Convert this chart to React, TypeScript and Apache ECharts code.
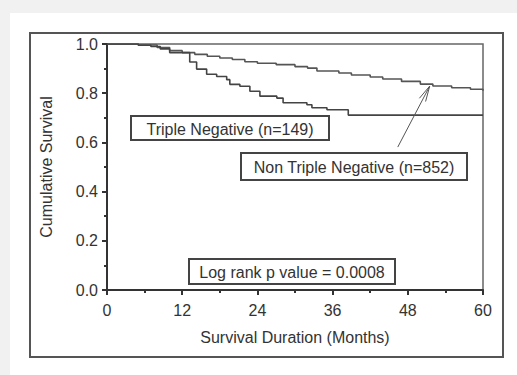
import React, { useEffect, useRef } from "react";
import * as echarts from "echarts";

const tnMonths = [0, 5, 7, 8.5, 10, 13.2, 14.3, 15.9, 17.5, 19.1, 19.6, 21.2, 22.8, 24.4, 27.1, 28.1, 31.9, 32.7, 35.1, 38.5, 60];
const tnSurvival = [1.0, 0.995, 0.99, 0.98, 0.965, 0.927, 0.898, 0.877, 0.868, 0.855, 0.836, 0.828, 0.808, 0.788, 0.78, 0.761, 0.753, 0.741, 0.733, 0.711, 0.711];

const ntnMonths = [0, 5, 8, 10, 12, 14, 16, 18, 20, 22, 24, 27, 30, 32, 33.5, 37, 39, 42, 44, 47, 50, 52, 55, 58, 60];
const ntnSurvival = [1.0, 0.996, 0.986, 0.973, 0.965, 0.958, 0.95, 0.943, 0.937, 0.928, 0.922, 0.916, 0.908, 0.902, 0.89, 0.882, 0.874, 0.866, 0.858, 0.848, 0.837, 0.829, 0.822, 0.816, 0.81];

const xTicks = [0, 12, 24, 36, 48, 60];
const yTicks = [0.0, 0.2, 0.4, 0.6, 0.8, 1.0];

const tnLabel = "Triple Negative (n=149)";
const ntnLabel = "Non Triple Negative (n=852)";
const pLabel = "Log rank p value = 0.0008";
const xTitle = "Survival Duration (Months)";
const yTitle = "Cumulative Survival";

// arrow from label to the non-TN curve (data coordinates)
const arrowTail = [46.4, 0.581];
const arrowTip = [51.5, 0.829];

const FONT = "'Liberation Sans', Arial, sans-serif";
const INK = "#333";

export default function App() {
  const ref = useRef<HTMLDivElement>(null);
  useEffect(() => {
    if (!ref.current) return;
    const chart = echarts.init(ref.current, null, { renderer: "svg" });
    const axisCommon = {
      axisLine: { show: true, lineStyle: { color: INK, width: 2 } },
      axisTick: { show: true, length: 5, lineStyle: { color: INK, width: 2 } },
      minorTick: { show: true, splitNumber: 2, length: 3, lineStyle: { color: INK, width: 2 } },
      splitLine: { show: false },
      axisLabel: { color: INK, fontSize: 16, fontFamily: FONT },
      nameTextStyle: { color: INK, fontSize: 16, fontFamily: FONT },
    };
    const option: any = {
      animation: false,
      grid: {
        left: 107,
        right: 34,
        top: 44,
        bottom: 85,
        show: true,
        borderColor: "#666",
        borderWidth: 1.5,
        backgroundColor: "transparent",
      },
      xAxis: {
        ...axisCommon,
        type: "value",
        min: xTicks[0],
        max: xTicks[xTicks.length - 1],
        interval: 12,
        axisLabel: { ...axisCommon.axisLabel, margin: 12 },
        name: xTitle,
        nameLocation: "middle",
        nameGap: 39,
      },
      yAxis: {
        ...axisCommon,
        type: "value",
        min: yTicks[0],
        max: yTicks[yTicks.length - 1],
        interval: 0.2,
        axisLabel: { ...axisCommon.axisLabel, margin: 9, formatter: (v: number) => v.toFixed(1) },
        name: yTitle,
        nameLocation: "middle",
        nameGap: 53,
      },
      series: [
        {
          type: "line",
          step: "end",
          showSymbol: false,
          data: ntnMonths.map((m, i) => [m, ntnSurvival[i]]),
          lineStyle: { color: "#555", width: 1.6 },
        },
        {
          type: "line",
          step: "end",
          showSymbol: false,
          data: tnMonths.map((m, i) => [m, tnSurvival[i]]),
          lineStyle: { color: "#444", width: 1.6 },
        },
      ],
    };
    chart.setOption(option);

    const tail = chart.convertToPixel({ gridIndex: 0 }, arrowTail) as number[];
    const tip = chart.convertToPixel({ gridIndex: 0 }, arrowTip) as number[];
    const ang = Math.atan2(tip[1] - tail[1], tip[0] - tail[0]);
    const headLen = 16;
    const spread = 0.22;
    const h1 = [tip[0] - headLen * Math.cos(ang - spread), tip[1] - headLen * Math.sin(ang - spread)];
    const h2 = [tip[0] - headLen * Math.cos(ang + spread), tip[1] - headLen * Math.sin(ang + spread)];

    const box = (x: number, y: number, w: number, h: number, text: string) => ({
      type: "group",
      children: [
        {
          type: "rect",
          shape: { x, y, width: w, height: h },
          style: { fill: "#fff", stroke: "#444", lineWidth: 2 },
          z: 100,
        },
        {
          type: "text",
          x: x + w / 2,
          y: y + h / 2 + 1,
          style: { text, fill: INK, font: `16px ${FONT}`, textAlign: "center", textVerticalAlign: "middle" },
          z: 101,
        },
      ],
    });

    chart.setOption({
      graphic: [
        {
          type: "rect",
          shape: { x: 30, y: 33, width: 473, height: 324 },
          style: { fill: "none", stroke: "#555", lineWidth: 2 },
        },
        box(131, 116, 198, 24, tnLabel),
        box(241, 153, 226, 27, ntnLabel),
        box(189, 259, 206, 25, pLabel),
        {
          type: "line",
          shape: { x1: tail[0], y1: tail[1], x2: tip[0], y2: tip[1] },
          style: { stroke: "#555", lineWidth: 1 },
          z: 102,
        },
        {
          type: "polyline",
          shape: { points: [h1, tip, h2] },
          style: { stroke: "#555", lineWidth: 1, fill: "none" },
          z: 102,
        },
      ],
    });
    return () => chart.dispose();
  }, []);
  return (
    <div style={{ position: "absolute", left: 0, top: 0, width: 517, height: 375, background: "#f1f1f1" }}>
      <div style={{ position: "absolute", left: 10, top: 13, right: 0, bottom: 0, background: "#fff" }} />
      <div ref={ref} style={{ position: "absolute", left: 0, top: 0, width: 517, height: 375 }} />
    </div>
  );
}
